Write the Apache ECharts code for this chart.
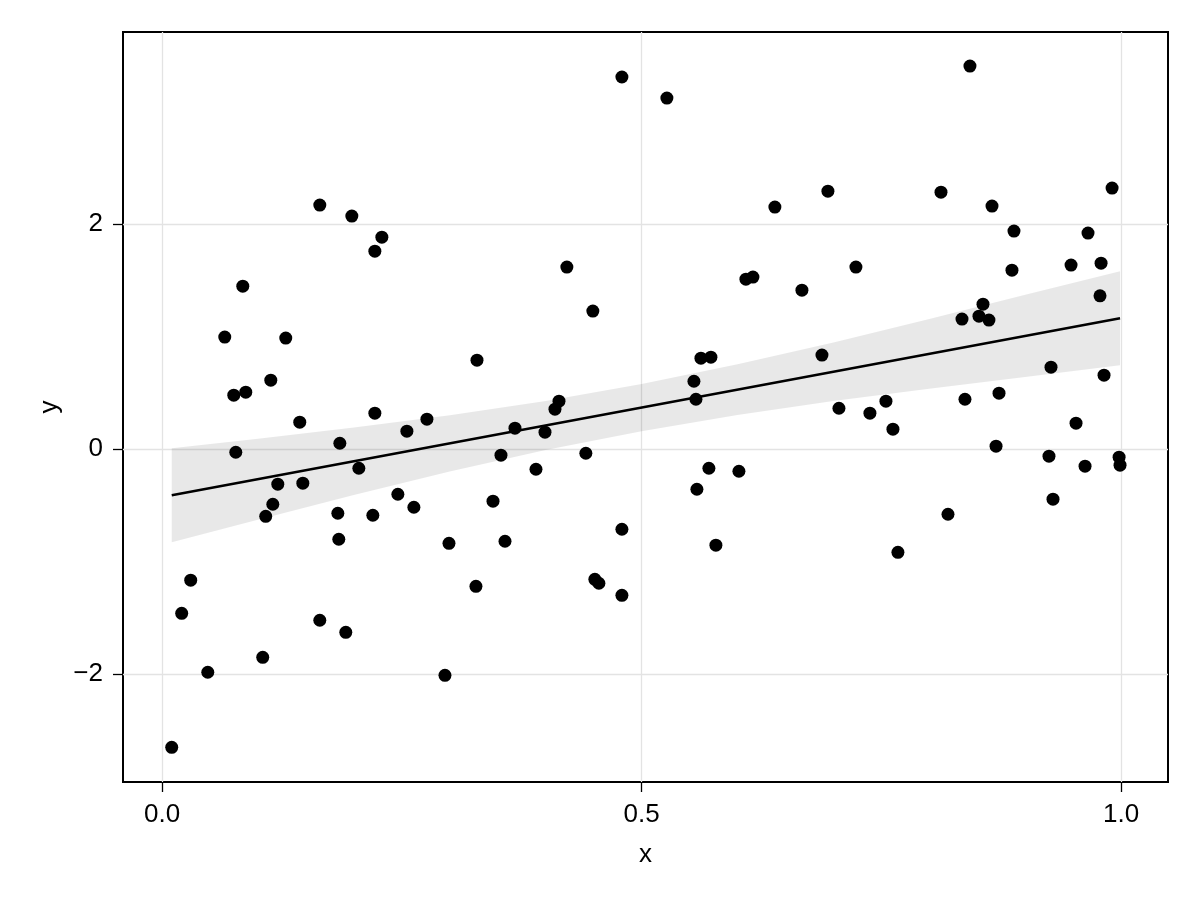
<!DOCTYPE html>
<html style="height: 100%">
<head>
    <meta charset="utf-8">
</head>
<body style="height: 100%; margin: 0; background: #fff">
<div id="container" style="width: 1200px; height: 900px"></div>
<script type="text/javascript" src="https://cdn.jsdelivr.net/npm/echarts@6/dist/echarts.min.js"></script>
<script type="text/javascript">
// scatter points
var pointX = [0.0101, 0.0205, 0.0299, 0.0477, 0.0654, 0.0748, 0.0769, 0.0842, 0.0873, 0.1050,
              0.1081, 0.1134, 0.1155, 0.1207, 0.1290, 0.1436, 0.1468, 0.1645, 0.1645, 0.1833,
              0.1843, 0.1854, 0.1916, 0.1979, 0.2052, 0.2198, 0.2219, 0.2219, 0.2292, 0.2459,
              0.2553, 0.2626, 0.2762, 0.2950, 0.2992, 0.3273, 0.3284, 0.3451, 0.3534, 0.3576,
              0.3680, 0.3899, 0.3993, 0.4097, 0.4139, 0.4221, 0.4419, 0.4492, 0.4513, 0.4555,
              0.4795, 0.4795, 0.4795, 0.5264, 0.5546, 0.5567, 0.5577, 0.5619, 0.5702, 0.5723,
              0.5775, 0.6015, 0.6088, 0.6161, 0.6390, 0.6672, 0.6881, 0.6943, 0.7058, 0.7235,
              0.7381, 0.7548, 0.7621, 0.7673, 0.8122, 0.8195, 0.8341, 0.8372, 0.8424, 0.8518,
              0.8560, 0.8622, 0.8654, 0.8696, 0.8727, 0.8862, 0.8883, 0.9248, 0.9269, 0.9290,
              0.9478, 0.9530, 0.9624, 0.9655, 0.9780, 0.9791, 0.9822, 0.9906, 0.9979, 0.9989];
var pointY = [-2.649, -1.458, -1.164, -1.982, 0.996, 0.480, -0.027, 1.449, 0.507, -1.849,
              -0.596, 0.613, -0.489, -0.311, 0.987, 0.240, -0.302, 2.169, -1.520, -0.569,
              -0.800, 0.053, -1.627, 2.071, -0.169, -0.587, 1.760, 0.320, 1.884, -0.400,
              0.160, -0.516, 0.267, -2.009, -0.836, -1.218, 0.791, -0.462, -0.053, -0.818,
              0.187, -0.178, 0.151, 0.356, 0.427, 1.618, -0.036, 1.227, -1.156, -1.191,
              3.307, -0.711, -1.298, 3.120, 0.604, 0.444, -0.356, 0.809, -0.169, 0.818,
              -0.853, -0.196, 1.511, 1.529, 2.151, 1.413, 0.836, 2.293, 0.364, 1.618,
              0.320, 0.427, 0.178, -0.916, 2.284, -0.578, 1.156, 0.444, 3.404, 1.182,
              1.289, 1.147, 2.160, 0.027, 0.498, 1.591, 1.938, -0.062, 0.729, -0.444,
              1.636, 0.231, -0.151, 1.920, 1.363, 1.653, 0.658, 2.320, -0.071, -0.142];

// fitted line and its confidence band
var fitX = [0.0101, 0.9989];
var fitY = [-0.409, 1.164];
var bandX = [0.0101, 0.1, 0.2, 0.3, 0.4, 0.5, 0.6, 0.7, 0.8, 0.9, 0.9989];
var bandUpper = [0.009, 0.094, 0.193, 0.302, 0.429, 0.580, 0.755, 0.949, 1.158, 1.372, 1.582];
var bandLower = [-0.827, -0.626, -0.407, -0.198, -0.007, 0.160, 0.305, 0.429, 0.538, 0.642, 0.746];

var xTicks = [0, 0.5, 1];
var yTicks = [-2, 0, 2];

var font = '"Liberation Sans", Arial, Helvetica, sans-serif';

function pairs(xs, ys) {
    var out = [];
    for (var i = 0; i < xs.length; i++) {
        out.push([xs[i], ys[i]]);
    }
    return out;
}

// band polygon: along the upper edge, then back along the lower edge
function renderBand(params, api) {
    if (params.dataIndex !== 0) return null;
    var pts = [];
    for (var i = 0; i < bandX.length; i++) {
        pts.push(api.coord([bandX[i], bandUpper[i]]));
    }
    for (var j = bandX.length - 1; j >= 0; j--) {
        pts.push(api.coord([bandX[j], bandLower[j]]));
    }
    return {
        type: 'polygon',
        shape: {points: pts},
        style: {fill: 'rgba(0,0,0,0.09)'},
        silent: true
    };
}

var myChart = echarts.init(document.getElementById('container'));
var option = {
    animation: false,
    backgroundColor: '#fff',
    grid: {
        left: 123, right: 32, top: 32, bottom: 118,
        show: true,
        borderColor: '#000',
        borderWidth: 2,
        backgroundColor: 'transparent'
    },
    xAxis: {
        type: 'value',
        min: -0.0407,
        max: 1.0489,
        name: 'x',
        nameLocation: 'middle',
        nameGap: 60,
        nameTextStyle: {fontFamily: font, fontSize: 26, color: '#000'},
        axisLine: {show: false, onZero: false},
        axisTick: {show: true, inside: false, length: 10, customValues: xTicks,
                   lineStyle: {color: '#000', width: 1.3}},
        axisLabel: {customValues: xTicks, margin: 20, fontFamily: font, fontSize: 26, color: '#000',
                    formatter: function (v) { return v.toFixed(1); }},
        splitLine: {show: true, lineStyle: {color: '#e3e3e3', width: 1.3}}
    },
    yAxis: {
        type: 'value',
        min: -2.957,
        max: 3.707,
        name: 'y',
        nameLocation: 'middle',
        nameGap: 58,
        nameRotate: 90,
        nameTextStyle: {fontFamily: font, fontSize: 26, color: '#000'},
        axisLine: {show: false, onZero: false},
        axisTick: {show: true, inside: false, length: 10, customValues: yTicks,
                   lineStyle: {color: '#000', width: 1.3}},
        axisLabel: {customValues: yTicks, margin: 20, fontFamily: font, fontSize: 26, color: '#000',
                    formatter: function (v) { return v < 0 ? '\u2212' + Math.abs(v) : String(v); }},
        splitLine: {show: true, lineStyle: {color: '#e3e3e3', width: 1.3}}
    },
    series: [
        {
            type: 'custom',
            renderItem: renderBand,
            data: pairs(bandX, bandUpper),
            silent: true,
            z: 1
        },
        {
            type: 'line',
            data: pairs(fitX, fitY),
            symbol: 'none',
            lineStyle: {color: '#000', width: 2.5},
            z: 2
        },
        {
            type: 'scatter',
            data: pairs(pointX, pointY),
            symbol: 'circle',
            symbolSize: 13,
            itemStyle: {color: '#000', opacity: 1},
            z: 3
        }
    ]
};
myChart.setOption(option);
</script>
</body>
</html>
